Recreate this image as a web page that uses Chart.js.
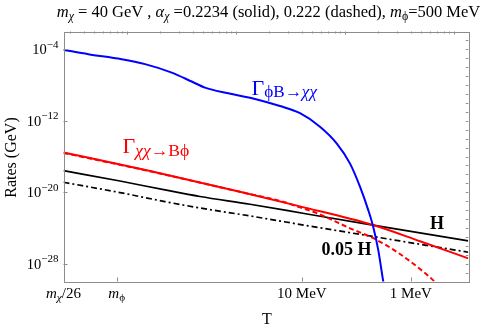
<!DOCTYPE html>
<html><head><meta charset="utf-8">
<script src="https://cdn.jsdelivr.net/npm/chart.js@4/dist/chart.umd.min.js"></script>
<style>html,body{margin:0;padding:0;background:#fff}canvas{display:block}</style>
</head><body>
<canvas id="c" width="498" height="332"></canvas>
<script>
// x variable: m_chi / T (dimensionless); plotted on log scale, T decreases to the right
const xMin = 26, xMax = 134600;
const yMin = 1e-30, yMax = 1e-2;

// Gamma_{phi B -> chi chi} (blue, solid)
const blueX = [26, 43.9, 88.9, 145.5, 255.9, 390, 516, 845, 1486, 2518, 3846, 5861, 8337, 11040, 13650, 16260, 18070, 20090, 22340, 24660];
const blueY = [8.7e-5, 2.9e-5, 7.9e-6, 2.2e-6, 2.5e-7, 2.5e-8, 5.2e-9, 1.2e-9, 2.8e-10, 4.5e-11, 7.1e-12, 2.2e-13, 3.0e-15, 1.7e-17, 4.2e-20, 1.0e-22, 1.3e-24, 3.3e-27, 9.3e-31, 6.3e-34];

// Gamma_{chi chi -> B phi}, alpha = 0.2234 (red, solid)
const redX = [26, 162, 1081, 3846, 18070, 48530, 134600];
const redY = [2.8e-16, 2.4e-18, 1.1e-20, 2.6e-22, 2.1e-24, 3.2e-26, 3.9e-28];

// Gamma_{chi chi -> B phi}, alpha = 0.222 (red, dashed)
const redDashX = [26, 162, 1081, 2685, 3846, 5508, 11070, 19540, 31770, 48530, 66530, 82220];
const redDashY = [2.5e-16, 2.2e-18, 1.1e-20, 8.5e-22, 2.0e-22, 4.4e-23, 9.1e-25, 4.4e-26, 1.2e-27, 2.5e-29, 8.5e-31, 3.2e-32];

// Hubble rate H (black, solid)
const hX = [26, 85.7, 221.8, 464.5, 1337, 4742, 17950, 134600];
const hY = [2.6e-18, 1.8e-19, 1.8e-20, 3.3e-21, 4.5e-22, 3.2e-23, 2.1e-24, 3.6e-26];

// 0.05 H (black, dash-dot)
const h05X = [26, 85.7, 221.8, 464.5, 1337, 4742, 17950, 134600];
const h05Y = [1.3e-19, 9.1e-21, 8.9e-22, 1.7e-22, 2.2e-23, 1.6e-24, 1.1e-25, 1.9e-27];

// ticks
const xTickValues = [26, 80, 4000, 40000];
const xTickLabels = [
  [{t:'m',i:1},{t:'χ',i:1,sub:1},{t:'/26'}],
  [{t:'m',i:1},{t:'ϕ',sub:1}],
  [{t:'10 MeV'}],
  [{t:'1 MeV'}]
];
const yTickValues = [1e-4, 1e-12, 1e-20, 1e-28];
const yTickExponents = ['−4', '−12', '−20', '−28'];

const titleText = [
  {t:'m',i:1},{t:'χ',i:1,sub:1},{t:' = 40 GeV , '},{t:'α',i:1},{t:'χ',i:1,sub:1},
  {t:' =0.2234 (solid), 0.222 (dashed), '},{t:'m',i:1},{t:'ϕ',sub:1},{t:'=500 MeV'}
];
const xAxisTitle = 'T';
const yAxisTitle = 'Rates (GeV)';
const blueLabel = [{t:'Γ'},{t:'ϕ',sub:1},{t:'B→',sub:1},{t:'χχ',i:1,sub:1}];
const redLabel = [{t:'Γ'},{t:'χχ',i:1,sub:1},{t:'→B',sub:1},{t:'ϕ',sub:1}];

const FONT = '"Liberation Serif", "DejaVu Serif", serif';
const FRAME = '#8c8c8c';

function pts(xs, ys) { return xs.map((x, k) => ({x, y: ys[k]})); }

function drawRich(ctx, segs, x, y, size, align, color, opts) {
  opts = opts || {};
  const subScale = opts.subScale || 0.7;
  let w = 0;
  const parts = segs.map(s => {
    const sz = (s.sub || s.sup) ? size * subScale : size;
    const f = (s.i ? 'italic ' : '') + (opts.bold ? 'bold ' : '') + sz + 'px ' + FONT;
    ctx.font = f;
    const mw = ctx.measureText(s.t).width;
    w += mw;
    return {s, f, mw, dy: s.sub ? size * (opts.subShift || 0.2) : s.sup ? -size * 0.42 : 0};
  });
  let cx = align === 'center' ? x - w / 2 : align === 'right' ? x - w : x;
  ctx.fillStyle = color; ctx.textBaseline = 'alphabetic'; ctx.textAlign = 'left';
  for (const p of parts) { ctx.font = p.f; ctx.fillText(p.s.t, cx, y + p.dy); cx += p.mw; }
  return w;
}

const decor = {
  id: 'decor',
  afterDatasetsDraw(chart) {
    const ctx = chart.ctx, a = chart.chartArea, xs = chart.scales.x, ys = chart.scales.y;
    ctx.save();
    // frame
    ctx.strokeStyle = FRAME; ctx.lineWidth = 1;
    ctx.strokeRect(Math.round(a.left) + 0.5, Math.round(a.top) + 0.5, Math.round(a.right - a.left), Math.round(a.bottom - a.top));
    ctx.beginPath();
    xTickValues.forEach(v => { const px = Math.round(xs.getPixelForValue(v)) + 0.5; ctx.moveTo(px, a.bottom); ctx.lineTo(px, a.bottom - 4); });
    yTickValues.forEach(v => { const py = Math.round(ys.getPixelForValue(v)) + 0.5; ctx.moveTo(a.left, py); ctx.lineTo(a.left + 4, py); });
    for (let d = 1; d <= 5; d++) for (let m = 1; m <= 9; m++) {
      const v = m * Math.pow(10, d);
      if (v <= xMin || v >= xMax) continue;
      const px = Math.round(xs.getPixelForValue(v)) + 0.5;
      ctx.moveTo(px, a.top); ctx.lineTo(px, a.top + (m === 1 ? 3 : 2));
    }
    for (let e = -29; e <= -3; e++) {
      const py = Math.round(ys.getPixelForValue(Math.pow(10, e))) + 0.5;
      ctx.moveTo(a.right, py); ctx.lineTo(a.right - 2.5, py);
    }
    ctx.stroke();

    // y tick labels
    yTickValues.forEach((v, k) => {
      const py = ys.getPixelForValue(v);
      ctx.font = '11px ' + FONT;
      const ew = ctx.measureText(yTickExponents[k]).width;
      const right = a.left - 5;
      ctx.fillStyle = '#000'; ctx.textAlign = 'left'; ctx.textBaseline = 'alphabetic';
      ctx.fillText(yTickExponents[k], right - ew, py - 1.5);
      ctx.font = '14.5px ' + FONT;
      const bw = ctx.measureText('10').width;
      ctx.fillText('10', right - ew - bw, py + 5);
    });
    // x tick labels
    xTickValues.forEach((v, k) => {
      drawRich(ctx, xTickLabels[k], xs.getPixelForValue(v), a.bottom + 16.5, 15, 'center', '#000', {subScale: 0.75});
    });
    // axis titles
    ctx.fillStyle = '#000'; ctx.font = '16px ' + FONT; ctx.textAlign = 'center'; ctx.textBaseline = 'middle';
    ctx.fillText(xAxisTitle, (a.left + a.right) / 2 + 1, 320);
    ctx.save(); ctx.translate(12, (a.top + a.bottom) / 2 + 1); ctx.rotate(-Math.PI / 2);
    ctx.fillText(yAxisTitle, 0, 0); ctx.restore();
    // title
    drawRich(ctx, titleText, 268.5, 17, 16.5, 'center', '#000', {subScale: 0.72});
    // curve labels
    drawRich(ctx, blueLabel, 251.5, 94.5, 22, 'left', '#0000ff', {subScale: 0.78, subShift: 0.1});
    drawRich(ctx, redLabel, 122.5, 153, 22, 'left', '#ff0000', {subScale: 0.8, subShift: 0.12});
    drawRich(ctx, [{t:'H'}], 430, 229, 18, 'left', '#000', {bold: true});
    drawRich(ctx, [{t:'0.05 H'}], 321.5, 255, 18, 'left', '#000', {bold: true});
    ctx.restore();
  }
};

new Chart(document.getElementById('c'), {
  type: 'line',
  data: {
    datasets: [
      {label: 'Γ φB→χχ', data: pts(blueX, blueY), borderColor: '#0000ff', borderWidth: 2, cubicInterpolationMode: 'monotone'},
      {label: 'Γ χχ→Bφ (0.2234)', data: pts(redX, redY), borderColor: '#ff0000', borderWidth: 2, cubicInterpolationMode: 'monotone'},
      {label: 'Γ χχ→Bφ (0.222)', data: pts(redDashX, redDashY), borderColor: '#ff0000', borderWidth: 2, borderDash: [5, 3], cubicInterpolationMode: 'monotone'},
      {label: 'H', data: pts(hX, hY), borderColor: '#000000', borderWidth: 1.7, cubicInterpolationMode: 'monotone'},
      {label: '0.05 H', data: pts(h05X, h05Y), borderColor: '#000000', borderWidth: 1.7, borderDash: [6, 3, 2, 3], cubicInterpolationMode: 'monotone'}
    ]
  },
  options: {
    responsive: false,
    animation: false,
    devicePixelRatio: 1,
    layout: {padding: {left: 63.5, right: 29.7, top: 31.5, bottom: 50.5}},
    elements: {point: {radius: 0, hoverRadius: 0}},
    plugins: {legend: {display: false}, tooltip: {enabled: false}, title: {display: false}},
    scales: {
      x: {type: 'logarithmic', min: xMin, max: xMax, display: false},
      y: {type: 'logarithmic', min: yMin, max: yMax, display: false}
    }
  },
  plugins: [decor]
});
</script>
</body></html>
